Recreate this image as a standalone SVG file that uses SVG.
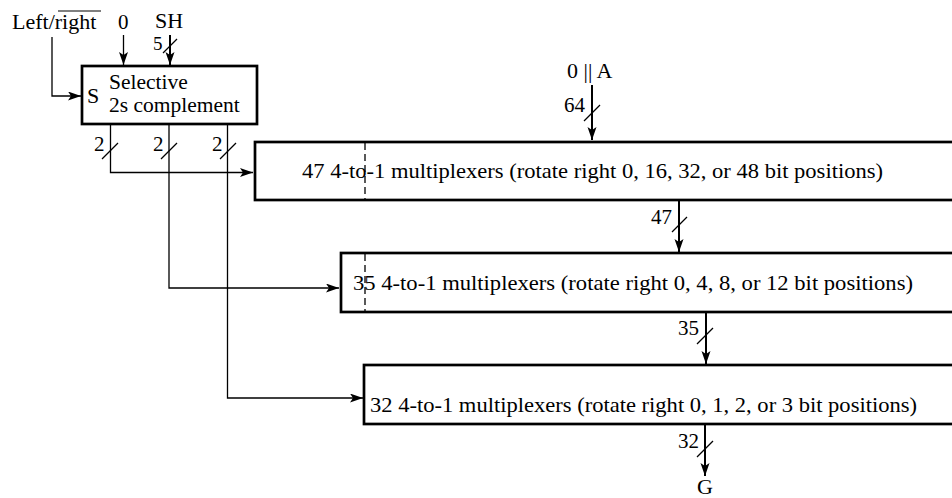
<svg xmlns="http://www.w3.org/2000/svg" width="952" height="498" viewBox="0 0 952 498">
<style>
text{font-family:"Liberation Serif","Times New Roman",serif;font-size:22px;fill:#000}
.num{font-size:21px}
.sel{font-size:21.5px}
.box{fill:#fff;stroke:#000;stroke-width:2.7}
.ln{fill:none;stroke:#000;stroke-width:1.3}
.bus{fill:none;stroke:#000;stroke-width:2}
.sl{fill:none;stroke:#000;stroke-width:1.3}
.dash{stroke:#000;stroke-width:1.3;stroke-dasharray:7,4}
</style>
<defs>
<marker id="ah" markerUnits="userSpaceOnUse" markerWidth="14" markerHeight="10" refX="13" refY="4.5" orient="auto">
<path d="M0,0 L13,4.5 L0,9 L3,4.5 z" fill="#000"/>
</marker>
</defs>
<g id="connectors">
<path class="ln" d="M52,37 V96 H81" marker-end="url(#ah)"/>
<path class="ln" d="M123.5,35 V65" marker-end="url(#ah)"/>
<path class="bus" d="M170,35 V65" marker-end="url(#ah)"/>
<path class="sl" d="M163,53 L177,39"/>
<path class="ln" d="M110.5,124 V172.5 H253" marker-end="url(#ah)"/>
<path class="sl" d="M102,159 L118,143"/>
<path class="ln" d="M169,124 V288 H339" marker-end="url(#ah)"/>
<path class="sl" d="M161,159 L177,143"/>
<path class="ln" d="M227.5,124 V398 H363" marker-end="url(#ah)"/>
<path class="sl" d="M220,159 L236,143"/>
<path class="bus" d="M592,85 V140" marker-end="url(#ah)"/>
<path class="sl" d="M584,121 L600,105"/>
<path class="bus" d="M679,200 V252" marker-end="url(#ah)"/>
<path class="sl" d="M672,232 L687,217"/>
<path class="bus" d="M706,313 V364" marker-end="url(#ah)"/>
<path class="sl" d="M697,344 L713,328"/>
<path class="bus" d="M705,425 V476" marker-end="url(#ah)"/>
<path class="sl" d="M697,457 L713,441"/>
</g>
<g id="inputs">
<text x="12" y="29">Left/right</text>
<path d="M58,11 H101" stroke="#000" stroke-width="1.2"/>
<text class="num" x="118" y="29">0</text>
<text x="155" y="28">SH</text>
<text x="153" y="50" style="font-size:19px">5</text>
<text x="567" y="78">0 || A</text>
<text class="num" x="564" y="112">64</text>
<text class="num" x="94" y="151">2</text>
<text class="num" x="153" y="151">2</text>
<text class="num" x="212" y="151">2</text>
<text class="num" x="651" y="224">47</text>
<text class="num" x="678" y="335">35</text>
<text class="num" x="678" y="448">32</text>
<text x="697" y="494">G</text>
</g>
<g id="selective">
<rect class="box" x="82" y="66" width="175" height="58"/>
<text x="87" y="103">S</text>
<text class="sel" x="109" y="89">Selective</text>
<text class="sel" x="109" y="112">2s complement</text>
</g>
<g id="mux1">
<rect class="box" x="255" y="142" width="710" height="58"/>
<line class="dash" x1="365" y1="143" x2="365" y2="200"/>
<text x="302" y="178" textLength="581" lengthAdjust="spacingAndGlyphs">47 4-to-1 multiplexers (rotate right 0, 16, 32, or 48 bit positions)</text>
</g>
<g id="mux2">
<rect class="box" x="341" y="253" width="624" height="59"/>
<line class="dash" x1="365" y1="254" x2="365" y2="312"/>
<text x="353" y="290" textLength="560" lengthAdjust="spacingAndGlyphs">35 4-to-1 multiplexers (rotate right 0, 4, 8, or 12 bit positions)</text>
</g>
<g id="mux3">
<rect class="box" x="364" y="365" width="601" height="59"/>
<text x="370" y="412" textLength="547" lengthAdjust="spacingAndGlyphs">32 4-to-1 multiplexers (rotate right 0, 1, 2, or 3 bit positions)</text>
</g>
</svg>
